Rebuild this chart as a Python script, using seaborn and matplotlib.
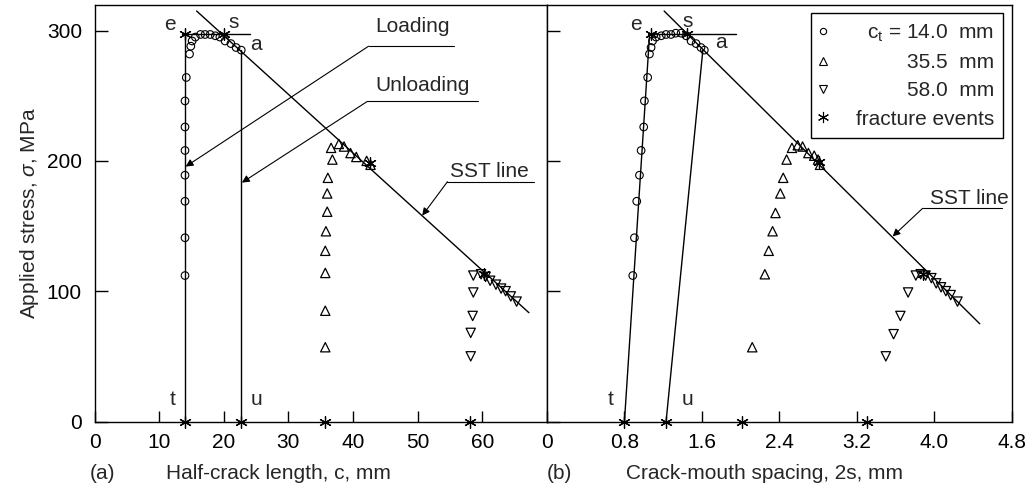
import matplotlib
matplotlib.use("Agg")
import matplotlib.pyplot as plt
from matplotlib.lines import Line2D
import seaborn as sns

# ---------------------------------------------------------------------------
# Data
# ---------------------------------------------------------------------------
# panel (a): half-crack length c (mm) vs applied stress (MPa)
circ_a_c = [14.0, 14.0, 14.0, 14.0, 14.0, 14.0, 14.0, 14.2, 14.7, 14.9, 15.1,
            15.6, 16.4, 17.1, 17.9, 18.7, 19.4, 20.2, 21.1, 21.9, 22.7]
circ_a_s = [112, 141, 169, 189, 208, 226, 246, 264, 282, 288, 292,
            295, 297, 297, 297, 296, 295, 292, 290, 287, 285]
tri_a_c = [35.7, 35.7, 35.7, 35.7, 35.8, 36.0, 36.0, 36.1, 36.8, 36.6, 37.8,
           38.6, 39.6, 40.5, 42.1, 42.7]
tri_a_s = [57, 85, 114, 131, 146, 161, 175, 187, 201, 210, 213,
           211, 206, 203, 200, 197]
dn_a_c = [58.2, 58.2, 58.5, 58.6, 58.6, 59.8, 60.5, 61.2, 62.1, 62.9, 63.6, 64.4, 65.3]
dn_a_s = [50, 68, 81, 99, 112, 113, 111, 108, 105, 102, 100, 96, 92]
frac_a_c = [14.0, 20.1, 14.0, 22.7, 35.6, 58.1, 42.6, 60.2]
frac_a_s = [297.5, 297.5, 0, 0, 0, 0, 198, 113]

# panel (b): crack-mouth spacing 2s (mm) vs applied stress (MPa)
circ_b_w = [0.886, 0.903, 0.927, 0.955, 0.972, 0.999, 1.006, 1.04, 1.058, 1.075, 1.09,
            1.127, 1.18, 1.23, 1.28, 1.33, 1.385, 1.437, 1.488, 1.54, 1.59, 1.625]
circ_b_s = [112, 141, 169, 189, 208, 226, 246, 264, 282, 287, 292,
            295, 296, 297, 297, 298, 298, 296, 292, 290, 287, 285]
tri_b_w = [2.12, 2.25, 2.29, 2.33, 2.36, 2.41, 2.44, 2.475, 2.53, 2.59, 2.64,
           2.70, 2.76, 2.80, 2.82]
tri_b_s = [57, 113, 131, 146, 160, 175, 187, 201, 210, 212, 211,
           206, 204, 201, 197]
dn_b_w = [3.50, 3.58, 3.65, 3.73, 3.81, 3.86, 3.91, 3.97, 4.02, 4.07, 4.12, 4.17, 4.24]
dn_b_s = [50, 67, 81, 99, 112, 113, 112, 110, 106, 103, 100, 97, 92]
frac_b_w = [1.07, 1.45, 0.80, 1.23, 2.01, 3.31, 2.81, 3.88]
frac_b_s = [297.5, 297.5, 0, 0, 0, 0, 199, 113]

# guide lines (x pair, stress pair)
load_a = ([14.0, 14.0], [0, 297.5])
unload_a = ([22.7, 22.7], [0, 285])
flat_a = ([13.5, 24.1], [297.5, 297.5])
sst_a = ([15.8, 67.2], [315, 83.5])
load_b = ([0.80, 1.06], [0, 297.5])
unload_b = ([1.23, 1.61], [0, 285])
flat_b = ([1.04, 1.95], [297.5, 297.5])
sst_b = ([1.21, 4.47], [315, 75])

series_labels = ["$\\mathregular{c_t}$ = 14.0  mm", "35.5  mm", "58.0  mm", "fracture events"]
yticks = [0, 100, 200, 300]
xticks_a = [0, 10, 20, 30, 40, 50, 60]
xticks_b = [0, 0.8, 1.6, 2.4, 3.2, 4.0, 4.8]
xticklabels_b = ["0", "0.8", "1.6", "2.4", "3.2", "4.0", "4.8"]

# ---------------------------------------------------------------------------
sns.set_theme(style="ticks")
plt.rcParams["font.family"] = ["Liberation Sans", "DejaVu Sans"]
plt.rcParams["mathtext.fontset"] = "custom"
plt.rcParams["mathtext.rm"] = "Liberation Sans"
plt.rcParams["mathtext.it"] = "Liberation Sans:italic"

FS = 15
STAR = (6, 2, 0)

fig = plt.figure(figsize=(10.32, 4.95), dpi=100)
W, H = 1032, 495
bottom, top = 421.5, 4.5
ax_a = fig.add_axes([94.5 / W, 1 - bottom / H, (547 - 94.5) / W, (bottom - top) / H])
ax_b = fig.add_axes([547 / W, 1 - bottom / H, (1011.7 - 547) / W, (bottom - top) / H])


def draw_panel(ax, cx, cy, tx, ty, dx, dy, fx, fy, lines):
    for xs, ys in lines:
        ax.plot(xs, ys, color="black", lw=1.0, zorder=2)
    sns.scatterplot(x=cx, y=cy, marker="o", s=30, facecolor="none",
                    edgecolor="black", linewidth=0.8, ax=ax, zorder=3)
    sns.scatterplot(x=tx, y=ty, marker="^", s=45, facecolor="none",
                    edgecolor="black", linewidth=0.9, ax=ax, zorder=3)
    sns.scatterplot(x=dx, y=dy, marker="v", s=45, facecolor="none",
                    edgecolor="black", linewidth=0.9, ax=ax, zorder=3)
    sns.scatterplot(x=fx, y=fy, marker=STAR, s=70, color="black",
                    linewidth=0.9, ax=ax, zorder=4, clip_on=False)
    ax.set_ylim(0, 320)
    ax.set_yticks(yticks)
    ax.set_xlabel("")
    ax.set_ylabel("")
    for sp in ax.spines.values():
        sp.set_visible(True)
        sp.set_linewidth(1.0)
        sp.set_color("black")
    ax.tick_params(axis="x", direction="in", length=8, width=1, pad=8,
                   labelsize=FS, colors="black", top=False)
    ax.tick_params(axis="y", direction="in", length=9.5, width=1, pad=9,
                   labelsize=FS, colors="black", right=False)


def callout(ax, text, txy, x0, x1, yline, tip):
    ax.plot([x0, x1], [yline, yline], color="black", lw=0.8)
    ax.annotate("", xy=tip, xytext=(x0, yline),
                arrowprops=dict(arrowstyle="-|>", color="black", lw=0.8,
                                mutation_scale=11, shrinkA=0, shrinkB=0))
    ax.text(*txy, text, fontsize=FS, ha="center", va="center")


# panel (a)
draw_panel(ax_a, circ_a_c, circ_a_s, tri_a_c, tri_a_s, dn_a_c, dn_a_s,
           frac_a_c, frac_a_s, [load_a, unload_a, flat_a, sst_a])
ax_a.set_xlim(0, 70)
ax_a.set_xticks(xticks_a)
for letter, xy in [("e", (11.6, 305)), ("s", (21.5, 306)), ("a", (25.0, 289)),
                   ("t", (12.1, 17)), ("u", (25.1, 17))]:
    ax_a.text(*xy, letter, fontsize=FS, ha="center", va="center")
callout(ax_a, "Loading", (49.2, 303), 42.4, 55.6, 288, (14.1, 195.6))
callout(ax_a, "Unloading", (50.7, 258), 42.2, 59.3, 245.6, (22.8, 183.3))
callout(ax_a, "SST line", (61.1, 192), 54.6, 68.0, 184, (50.7, 158))
ax_a.set_ylabel("Applied stress, $\\mathit{\\sigma}$, MPa", fontsize=FS, labelpad=4)
ax_a.text(-0.01, -0.125, "(a)", transform=ax_a.transAxes, fontsize=FS,
          ha="left", va="center")
ax_a.text(0.158, -0.125, "Half-crack length, c, mm", transform=ax_a.transAxes,
          fontsize=FS, ha="left", va="center")

# panel (b)
draw_panel(ax_b, circ_b_w, circ_b_s, tri_b_w, tri_b_s, dn_b_w, dn_b_s,
           frac_b_w, frac_b_s, [load_b, unload_b, flat_b, sst_b])
ax_b.set_xlim(0, 4.8)
ax_b.set_xticks(xticks_b)
ax_b.set_xticklabels(xticklabels_b)
ax_b.tick_params(axis="y", labelleft=False)
for letter, xy in [("e", (0.92, 305)), ("s", (1.45, 307)), ("a", (1.80, 290.5)),
                   ("t", (0.655, 17)), ("u", (1.447, 17))]:
    ax_b.text(*xy, letter, fontsize=FS, ha="center", va="center")
callout(ax_b, "SST line", (4.36, 171), 3.88, 4.70, 163.6, (3.57, 142))
ax_b.text(0.0, -0.125, "(b)", transform=ax_b.transAxes, fontsize=FS,
          ha="left", va="center")
ax_b.text(0.169, -0.125, "Crack-mouth spacing, 2s, mm", transform=ax_b.transAxes,
          fontsize=FS, ha="left", va="center")

handles = [
    Line2D([], [], ls="", marker="o", ms=4.5, mfc="none", mec="black", mew=0.8),
    Line2D([], [], ls="", marker="^", ms=6, mfc="none", mec="black", mew=0.8),
    Line2D([], [], ls="", marker="v", ms=6, mfc="none", mec="black", mew=0.8),
    Line2D([], [], ls="", marker=STAR, ms=8, color="black", mew=0.8),
]
leg = ax_b.legend(handles, series_labels, loc="upper right", fontsize=FS,
                  frameon=True, fancybox=False, edgecolor="black", framealpha=1,
                  borderaxespad=0.4, handlelength=0.3, handletextpad=1.4,
                  labelspacing=0.45, borderpad=0.45)
leg.get_frame().set_linewidth(1.0)

# right-align the legend texts so the "mm" columns line up
fig.canvas.draw()
renderer = fig.canvas.get_renderer()
widths = [t.get_window_extent(renderer).width for t in leg.get_texts()]
for t, w in zip(leg.get_texts(), widths):
    t.set_position((max(widths) - w, 0))

fig.savefig("out.png", dpi=100)
